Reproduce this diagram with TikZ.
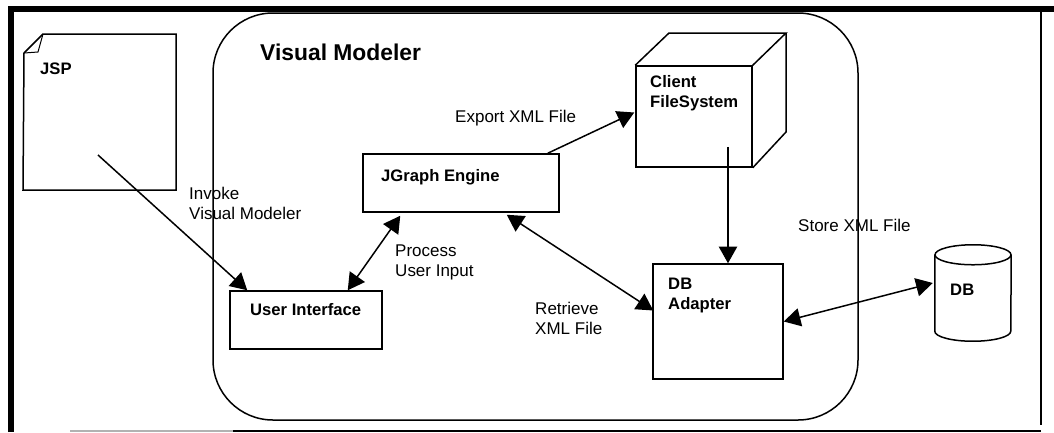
\documentclass[tikz,border=0pt]{standalone}
\usepackage{fontspec}
\setmainfont{Liberation Sans}
\usepackage{tikz}
\usetikzlibrary{calc,positioning,arrows.meta}
\tikzset{
  box/.style={draw,line width=0.45mm,inner sep=0pt},
  wire/.style={line width=0.45mm,>={Triangle[length=5mm,width=5.5mm]}},
  maintitle/.style={font=\fontsize{19.5}{22}\selectfont\bfseries,anchor=base west,inner sep=0pt},
  boxname/.style={font=\fontsize{14.2}{17}\selectfont\bfseries,anchor=base west,inner sep=0pt,align=left},
  wirenote/.style={font=\fontsize{14.5}{16.5}\selectfont,anchor=base west,inner sep=0pt,align=left},
}

\begin{document}
\begin{tikzpicture}[x=0.3mm,y=-0.3mm]
    \useasboundingbox (0,0) rectangle (1054,432);

    % frame
    \draw[line width=1.8mm] (10.5,432) -- (10.5,9) -- (1054,9);
    \draw[line width=0.4mm] (1041,12) -- (1041,425);
    \draw[line width=0.5mm] (233,431) -- (1041,431);
    \draw[line width=0.4mm,gray!60] (70,431) -- (233,431);

    % modeler outline
    \node[box,rounded corners=18mm,minimum width=193.5mm,minimum height=122.1mm] (VM) at (535.5,216.5) {};

    % boxes
    \node[box,minimum width=58.8mm,minimum height=17.4mm] (JG) at (461,183) {};
    \node[box,minimum width=45.6mm,minimum height=17.4mm] (UI) at (306,320) {};
    \node[box,minimum width=39mm,minimum height=34.5mm] (AD) at (718,321.5) {};
    \node[box,minimum width=34.8mm,minimum height=30.3mm] (FS) at (694,116.5) {};
    \node[inner sep=0pt,minimum width=22.8mm,minimum height=28.8mm] (DB) at (973,293) {};

    % cube
    \coordinate (FSa) at (669,33);
    \coordinate (FSb) at (786,33);
    \coordinate (FSc) at (786,132);
    \draw[line width=0.45mm] (FS.north west) -- (FSa) -- (FSb) -- (FS.north east);
    \draw[line width=0.45mm] (FSb) -- (FSc) -- (FS.south east);

    % drum
    \draw[line width=0.45mm] ($(DB.north)+(0,10)$) ellipse[x radius=38,y radius=10];
    \draw[line width=0.45mm] ($(DB.north west)+(0,10)$) -- ($(DB.south west)+(0,-10)$)
      arc[start angle=180,end angle=0,x radius=38,y radius=10] -- ($(DB.north east)+(0,10)$);

    % page
    \coordinate (JSPa) at (24,53);
    \coordinate (JSPb) at (43,34);
    \coordinate (JSPc) at (176,34);
    \coordinate (JSPd) at (176,190);
    \coordinate (JSPe) at (23,190);
    \coordinate (JSPf) at (38,52);
    \draw[line width=0.45mm] (JSPa) -- (JSPb) -- (JSPc) -- (JSPd) -- (JSPe) -- cycle;
    \draw[line width=0.3mm] (JSPa) -- (JSPf) -- (JSPb);
    \coordinate (JSPin) at (98,155);

    % text
    \node[maintitle] (VMt) at (260,60) {Visual Modeler};
    \node[boxname] (JSPt) at (40,74) {JSP};
    \node[boxname] (JGt) at (381,181) {JGraph Engine};
    \node[boxname] (UIt) at (250,315) {User Interface};
    \node[boxname] (FSt) at (650,107) {Client\\FileSystem};
    \node[boxname] (ADt) at (668,309) {DB\\Adapter};
    \node[boxname] (DBt) at (950,295) {DB};

    \node[wirenote] (n1) at (189,219) {Invoke\\Visual Modeler};
    \node[wirenote] (n2) at (455,122) {Export XML File};
    \node[wirenote] (n3) at (395,276) {Process\\User Input};
    \node[wirenote] (n4) at (535,334) {Retrieve\\XML File};
    \node[wirenote] (n5) at (798,231) {Store XML File};

    % arrows
    \draw[wire,->] (JSPin) -- ($(UI.north west)+(18,0)$);
    \draw[wire,<->] ($(UI.north east)+(-35,0)$) -- ($(JG.south west)+(38,3)$);
    \draw[wire,<->] ($(JG.south east)+(-53,2)$) -- ($(AD.west)+(1,-11)$);
    \draw[wire,->] ($(JG.north east)+(-12,0)$) -- ($(FS.west)+(-1,-4)$);
    \draw[wire,->] ($(FS.south)+(34,-21)$) -- ($(AD.north)+(10,0)$);
    \draw[wire,<->] (AD.east) -- ($(DB.west)+(-2,-10)$);
  \end{tikzpicture}
\end{document}
